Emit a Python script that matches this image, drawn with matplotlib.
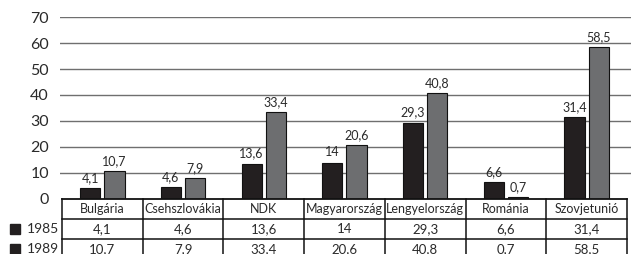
import matplotlib
matplotlib.use("Agg")
import matplotlib.pyplot as plt
from matplotlib.patches import Rectangle

categories = ["Bulgária", "Csehszlovákia", "NDK", "Magyarország",
              "Lengyelország", "Románia", "Szovjetunió"]
years = ["1985", "1989"]
v1985 = [4.1, 4.6, 13.6, 14, 29.3, 6.6, 31.4]
v1989 = [10.7, 7.9, 33.4, 20.6, 40.8, 0.7, 58.5]
yticks = [0, 10, 20, 30, 40, 50, 60, 70]

c85 = "#231f20"
c89 = "#6d6e70"
font = "Lato"
txtc = "#2a2a2a"

def fmt(v):
    s = ("%g" % v).replace(".", ",")
    return s

W, H = 631, 254
fig = plt.figure(figsize=(W / 100, H / 100), dpi=100)
ax_left = 60 / W
ax_w = (631 - 60) / W
ax_bottom = (H - 199) / H
ax_h = (199 - 17) / H
ax = fig.add_axes([ax_left, ax_bottom, ax_w, ax_h])

colw = 80.7
x_lo = -0.5 - 2 / colw
x_hi = (631 - 62) / colw - 0.5
ax.set_xlim(x_lo, x_hi)
ax.set_ylim(0, 70)

for s in ax.spines.values():
    s.set_visible(False)
ax.set_xticks([])
ax.set_yticks(yticks)
ax.set_yticklabels([str(t) for t in yticks], fontsize=11.5, family=font, color=txtc)
ax.tick_params(axis="y", length=0, pad=8)
for t in yticks[1:]:
    ax.axhline(t, color="#6f6f6f", lw=1.0, zorder=0)

bw = 0.25
gap = 0.05
xs = list(range(len(categories)))
x1 = [x - bw / 2 - gap / 2 for x in xs]
x2 = [x + bw / 2 + gap / 2 for x in xs]
ax.bar(x1, v1985, width=bw, color=c85, edgecolor="#111111", linewidth=0.8, zorder=3)
ax.bar(x2, v1989, width=bw, color=c89, edgecolor="#111111", linewidth=0.8, zorder=3)
for x, v in zip(x1, v1985):
    ax.annotate(fmt(v), (x, v), xytext=(0, 3), textcoords="offset points",
                ha="center", va="bottom", fontsize=9, family=font, color=txtc)
for x, v in zip(x2, v1989):
    ax.annotate(fmt(v), (x, v), xytext=(0, 3), textcoords="offset points",
                ha="center", va="bottom", fontsize=9, family=font, color=txtc)

# table
tr = ax.get_xaxis_transform()
rowh = 20 / 182
n = len(categories)
ax.plot([-0.5, n - 0.5], [0, 0], transform=tr, color="#111111", lw=1.3, clip_on=False, zorder=4)
for k in (1, 2):
    ax.plot([-0.5, n - 0.5], [-k * rowh, -k * rowh], transform=tr, color="#111111",
            lw=1.1, clip_on=False)
for k in range(n + 1):
    ax.plot([k - 0.5, k - 0.5], [0, -3.5 * rowh], transform=tr, color="#111111",
            lw=1.1, clip_on=False)
for i, c in enumerate(categories):
    ax.text(i, -0.5 * rowh, c, transform=tr, ha="center", va="center",
            fontsize=9, family=font, color=txtc)
    ax.text(i, -1.5 * rowh, fmt(v1985[i]), transform=tr, ha="center", va="center",
            fontsize=9.5, family=font, color=txtc)
    ax.text(i, -2.5 * rowh, fmt(v1989[i]), transform=tr, ha="center", va="center",
            fontsize=9.5, family=font, color=txtc)

# row labels with squares
for r, (yr, col) in enumerate(zip(years, [c85, c85])):
    yc = H - (229 + r * 20)
    fig.patches.append(Rectangle((10 / W, (yc - 5) / H), 10 / W, 10 / H,
                                 transform=fig.transFigure, color=col))
    fig.text(27 / W, yc / H, yr, ha="left", va="center", fontsize=10,
             family=font, color=txtc)

fig.savefig("out.png", dpi=100)
